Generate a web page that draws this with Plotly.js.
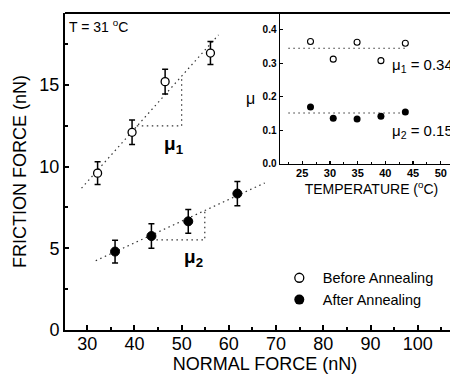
<!DOCTYPE html>
<html>
<head>
<meta charset="utf-8">
<script src="https://cdn.plot.ly/plotly-3.0.1.min.js"></script>
<style>
html, body { margin: 0; padding: 0; overflow: hidden; background: #fff; }
#chart { width: 470px; height: 374px; }
</style>
</head>
<body>
<div id="chart"></div>
<script>
// Main panel: friction force vs normal force
const beforeX = [32.2, 39.5, 46.5, 56.1];
const beforeY = [9.6, 12.1, 15.2, 16.95];
const beforeErr = [0.7, 0.75, 0.75, 0.7];
const afterX = [35.9, 43.6, 51.4, 61.8];
const afterY = [4.8, 5.75, 6.65, 8.35];
const afterErr = [0.7, 0.75, 0.73, 0.74];
const fitBeforeX = [28.8, 57.8];
const fitBeforeY = [8.68, 18.06];
const fitAfterX = [31.8, 67.6];
const fitAfterY = [4.24, 9.0];
const mu1TriX = [40.5, 50.0, 50.0];
const mu1TriY = [12.49, 12.49, 15.5];
const mu2TriX = [43.6, 54.9, 54.9];
const mu2TriY = [5.51, 5.51, 7.45];
const mainXTicks = [30, 40, 50, 60, 70, 80, 90, 100, 110];
const mainYTicks = [0, 5, 10, 15];

// Inset: friction coefficient vs temperature
const tempX = [26.5, 30.6, 34.9, 39.2, 43.6];
const muBefore = [0.365, 0.3125, 0.363, 0.308, 0.36];
const muAfter = [0.17, 0.136, 0.134, 0.142, 0.155];
const muFitX = [22.5, 44.0];
const mu1Fit = [0.345, 0.345];
const mu2Fit = [0.152, 0.152];
const insetXTicks = [25, 30, 35, 40, 45, 50];
const insetYTicks = [0, 0.1, 0.2, 0.3, 0.4];

const dotLine = {color: '#333', width: 1.2, dash: '1.5px,3.5px'};
const errStyle = (arr) => ({type: 'data', array: arr, visible: true, color: '#000', thickness: 1.5, width: 3});

const traces = [
  {x: fitBeforeX, y: fitBeforeY, mode: 'lines', line: dotLine, showlegend: false, hoverinfo: 'skip'},
  {x: fitAfterX, y: fitAfterY, mode: 'lines', line: dotLine, showlegend: false, hoverinfo: 'skip'},
  {x: mu1TriX, y: mu1TriY, mode: 'lines', line: dotLine, showlegend: false, hoverinfo: 'skip'},
  {x: mu2TriX, y: mu2TriY, mode: 'lines', line: dotLine, showlegend: false, hoverinfo: 'skip'},
  {x: beforeX, y: beforeY, mode: 'markers', error_y: errStyle(beforeErr),
   marker: {symbol: 'circle', size: 8, color: '#fff', line: {color: '#000', width: 1.3}}, showlegend: false},
  {x: afterX, y: afterY, mode: 'markers', error_y: errStyle(afterErr),
   marker: {symbol: 'circle', size: 9, color: '#000', line: {color: '#000', width: 1}}, showlegend: false},
  // legend entries
  {x: [null], y: [null], mode: 'markers', name: 'Before Annealing',
   marker: {symbol: 'circle', size: 9, color: '#fff', line: {color: '#000', width: 1.3}}},
  {x: [null], y: [null], mode: 'markers', name: 'After Annealing',
   marker: {symbol: 'circle', size: 10, color: '#000'}},
  // inset
  {x: muFitX, y: mu1Fit, xaxis: 'x2', yaxis: 'y2', mode: 'lines', line: dotLine, showlegend: false, hoverinfo: 'skip'},
  {x: muFitX, y: mu2Fit, xaxis: 'x2', yaxis: 'y2', mode: 'lines', line: dotLine, showlegend: false, hoverinfo: 'skip'},
  {x: tempX, y: muBefore, xaxis: 'x2', yaxis: 'y2', mode: 'markers', showlegend: false,
   marker: {symbol: 'circle', size: 6, color: '#fff', line: {color: '#000', width: 1.1}}},
  {x: tempX, y: muAfter, xaxis: 'x2', yaxis: 'y2', mode: 'markers', showlegend: false,
   marker: {symbol: 'circle', size: 7, color: '#000'}}
];

const FONT = 'Liberation Sans, Arial, sans-serif';

const layout = {
  width: 470, height: 374,
  margin: {l: 65, r: 5, t: 13, b: 44},
  paper_bgcolor: '#fff', plot_bgcolor: '#fff',
  font: {family: FONT, color: '#000'},
  showlegend: true,
  legend: {x: 0.527, y: 0.215, xanchor: 'left', yanchor: 'top', font: {size: 14.5, family: FONT},
           bgcolor: 'rgba(0,0,0,0)', tracegroupgap: 0, itemwidth: 37},
  xaxis: {
    domain: [0, 1], range: [25.3, 110], tickvals: mainXTicks, ticktext: mainXTicks.map(String),
    showgrid: false, zeroline: false, showline: true, linecolor: '#000', linewidth: 2,
    ticks: 'inside', ticklen: 5, tickwidth: 2, tickcolor: '#000', ticklabelstandoff: -4,
    minor: {dtick: 5, tick0: 25, ticks: 'inside', ticklen: 3, tickwidth: 2, tickcolor: '#000', showgrid: false},
    tickfont: {size: 18, family: FONT},
    title: {text: 'NORMAL FORCE (nN)', font: {size: 18, family: FONT}, standoff: 16}
  },
  yaxis: {
    domain: [0, 1], range: [0, 19.4], tickvals: mainYTicks, ticktext: mainYTicks.map(String),
    showgrid: false, zeroline: false, showline: true, linecolor: '#000', linewidth: 2,
    ticks: 'inside', ticklen: 4, tickwidth: 2, tickcolor: '#000',
    minor: {dtick: 2.5, tick0: 0, ticks: 'inside', ticklen: 3, tickwidth: 2, tickcolor: '#000', showgrid: false},
    tickfont: {size: 18, family: FONT},
    title: {text: 'FRICTION FORCE (nN)', font: {size: 18, family: FONT}, standoff: 8}
  },
  xaxis2: {
    domain: [0.5375, 0.995], range: [21, 54], anchor: 'y2',
    tickvals: insetXTicks, ticktext: insetXTicks.map(String),
    showgrid: false, zeroline: false, showline: true, linecolor: '#000', linewidth: 1.5,
    ticks: 'inside', ticklen: 3, tickwidth: 1.2, tickcolor: '#000', ticklabelstandoff: -2,
    minor: {dtick: 2.5, tick0: 0, ticks: 'inside', ticklen: 2, tickwidth: 1, tickcolor: '#000', showgrid: false},
    tickfont: {size: 11, family: FONT, weight: 'bold'},
    title: {text: 'TEMPERATURE (<sup>o</sup>C)', font: {size: 14, family: FONT}, standoff: 0}
  },
  yaxis2: {
    domain: [0.5237, 1], range: [0, 0.45], anchor: 'x2',
    tickvals: insetYTicks, ticktext: insetYTicks.map(v => v.toFixed(1)),
    showgrid: false, zeroline: false, showline: true, linecolor: '#000', linewidth: 1.5,
    ticks: 'inside', ticklen: 3, tickwidth: 1.2, tickcolor: '#000',
    tickfont: {size: 10, family: FONT, weight: 'bold'}
  },
  shapes: [
    {type: 'line', xref: 'paper', yref: 'paper', x0: 0, x1: 1.05, y0: 1, y1: 1, line: {color: '#000', width: 2}}
  ],
  annotations: [
    {xref: 'paper', yref: 'paper', x: 0.005, y: 0.995, xanchor: 'left', yanchor: 'top', showarrow: false,
     text: 'T = 31 <sup>o</sup>C', font: {size: 14, family: FONT}},
    {xref: 'x', yref: 'y', x: 48.3, y: 11.3, showarrow: false,
     text: '<b>μ</b><sub><b>1</b></sub>', font: {size: 19, family: FONT}},
    {xref: 'x', yref: 'y', x: 52.6, y: 4.4, showarrow: false,
     text: '<b>μ</b><sub><b>2</b></sub>', font: {size: 19, family: FONT}},
    {xref: 'x2', yref: 'y2', x: 40.9, y: 0.295, xanchor: 'left', showarrow: false,
     text: 'μ<sub>1</sub> = 0.34', font: {size: 15, family: FONT}},
    {xref: 'x2', yref: 'y2', x: 40.9, y: 0.098, xanchor: 'left', showarrow: false,
     text: 'μ<sub>2</sub> = 0.15', font: {size: 15, family: FONT}},
    {xref: 'paper', yref: 'paper', x: (250 - 65) / 400, y: (330 - 88) / 317, showarrow: false,
     text: 'μ', font: {size: 16, family: FONT}}
  ]
};

Plotly.newPlot('chart', traces, layout, {displayModeBar: false, staticPlot: true});
</script>
</body>
</html>
